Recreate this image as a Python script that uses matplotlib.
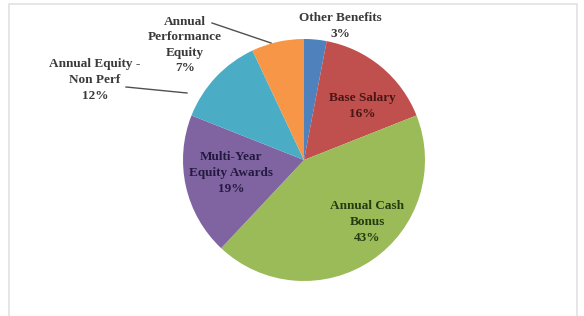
import matplotlib.pyplot as plt
from matplotlib.patches import Rectangle

# compensation mix, clockwise from 12 o'clock
labels = ['Other Benefits', 'Base Salary', 'Annual Cash\nBonus',
          'Multi-Year\nEquity Awards', 'Annual Equity -\nNon Perf',
          'Annual\nPerformance\nEquity']
shares = [3, 16, 43, 19, 12, 7]
colors = ['#4f81bd', '#c0504d', '#9bbb59', '#8064a2', '#4bacc6', '#f79646']

W, H = 584, 316
fig = plt.figure(figsize=(W / 100, H / 100), dpi=100)
fig.patch.set_facecolor('white')

# light frame around the chart area
fig.add_artist(Rectangle((9 / W, -0.01), (577 - 9) / W, (H - 4) / H + 0.01,
                         transform=fig.transFigure, fill=False,
                         edgecolor='#e2e2e2', linewidth=1.2))

# pie centre ~ (304, 160) px from top-left, radius ~121 px
cx, cy, r = 304, 160, 121
ax = fig.add_axes([(cx - r) / W, (H - cy - r) / H, 2 * r / W, 2 * r / H])
ax.pie(shares, colors=colors, startangle=90, counterclock=False,
       wedgeprops=dict(linewidth=0))
ax.set_xlim(-1, 1)
ax.set_ylim(-1, 1)
ax.set_aspect('equal')
ax.axis('off')

font = dict(family='Liberation Serif', fontweight='bold', fontsize=9.5,
            ha='center', va='center', linespacing=1.4)


def px(x, y):
    return x / W, 1 - y / H


# label text, position (px), colour
placements = [
    (340, 26, '#3a3a3a'),
    (362, 106, '#4a1515'),
    (367, 222, '#243a10'),
    (231, 173, '#241a40'),
    (95, 80, '#3a3a3a'),
    (185, 45, '#3a3a3a'),
]
for lab, pct, (x, y, c) in zip(labels, shares, placements):
    fig.text(*px(x, y), f'{lab}\n{pct}%', color=c, **font)

# leader lines for outside labels
fig.add_artist(plt.Line2D([126 / W, 187 / W], [1 - 87 / H, 1 - 93 / H],
                          color='#505050', linewidth=1))
fig.add_artist(plt.Line2D([212 / W, 271 / W], [1 - 23 / H, 1 - 43 / H],
                          color='#505050', linewidth=1))

fig.savefig('out.png', dpi=100)
